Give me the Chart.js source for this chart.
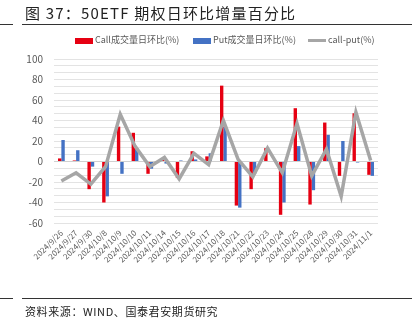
<!DOCTYPE html>
<html>
<head>
<meta charset="utf-8">
<script src="https://cdn.jsdelivr.net/npm/chart.js@4"></script>
<style>
  html, body { margin: 0; padding: 0; background: #fff; }
  body { width: 412px; height: 325px; position: relative; overflow: hidden; font-family: 'Noto Sans CJK SC', 'Noto Sans', sans-serif; }
  #wrap { position: absolute; left: 0; top: 0; width: 412px; height: 325px; }
  .title { position: absolute; left: 25px; top: 2px; font-size: 15px; color: #222; letter-spacing: 1.2px; white-space: nowrap; }
  .rule { position: absolute; height: 1px; background: #333; }
  .src { position: absolute; left: 25px; top: 303px; font-size: 11px; color: #222; letter-spacing: 0.6px; white-space: nowrap; }
  .legend { position: absolute; top: 33px; left: 0; width: 412px; font-size: 9px; color: #595959; white-space: nowrap; }
  .legend span.item { position: absolute; top: 0; }
  .legend i { display: inline-block; width: 18px; vertical-align: middle; margin-right: 2px; }
</style>
</head>
<body>
<div id="wrap"><canvas id="chart" width="412" height="325"></canvas></div>
<div class="title">图 37：50ETF 期权日环比增量百分比</div>
<div class="rule" style="left:0; width:13px; top:24px;"></div>
<div class="rule" style="left:22px; width:390px; top:24px;"></div>
<div class="legend" id="legend"></div>
<div class="rule" style="left:0; width:13px; top:298px;"></div>
<div class="rule" style="left:22px; width:390px; top:298px;"></div>
<div class="src">资料来源：WIND、国泰君安期货研究</div>
<script>
const labels = ['2024/9/26', '2024/9/27', '2024/9/30', '2024/10/8', '2024/10/9', '2024/10/10', '2024/10/11',
  '2024/10/14', '2024/10/15', '2024/10/16', '2024/10/17', '2024/10/18', '2024/10/21', '2024/10/22',
  '2024/10/23', '2024/10/24', '2024/10/25', '2024/10/28', '2024/10/29', '2024/10/30', '2024/10/31', '2024/11/1'];
const callValues = [3, 1, -27, -40, 34, 28, -12, 2, -16, 10, 5, 74, -43, -27, 13, -52, 52, -42, 38, -14, 47, -13];
const putValues = [21, 11, -5, -34, -12, 13, -7, -2, 1, 2, 8, 34, -45, -12, 0, -40, 15, -28, 26, 20, -1, -14];
const diffValues = [-19, -11, -22, -5, 46, 15, -5, 4, -17, 8, -3, 40, 2, -15, 13, -11, 37, -14, 12, -34, 48, 1];
const seriesNames = ['Call成交量日环比(%)', 'Put成交量日环比(%)', 'call-put(%)'];

const RED = '#E60012';
const BLUE = '#4472C4';
const GREY = '#A6A6A6';

// legend as html
const legend = document.getElementById('legend');
const legendItems = [
  { left: 75, color: RED, h: 6 },
  { left: 193, color: BLUE, h: 6 },
  { left: 308, color: GREY, h: 3 }
];
legendItems.forEach((it, i) => {
  const s = document.createElement('span');
  s.className = 'item';
  s.style.left = it.left + 'px';
  s.innerHTML = `<i style="height:${it.h}px;background:${it.color}"></i>${seriesNames[i]}`;
  legend.appendChild(s);
});

new Chart(document.getElementById('chart'), {
  data: {
    labels: labels,
    datasets: [
      { type: 'line', label: seriesNames[2], data: diffValues, borderColor: GREY, backgroundColor: GREY,
        borderWidth: 3.5, pointRadius: 0, tension: 0, order: 0 },
      { type: 'bar', label: seriesNames[0], data: callValues, backgroundColor: RED,
        categoryPercentage: 0.46, barPercentage: 1, order: 1 },
      { type: 'bar', label: seriesNames[1], data: putValues, backgroundColor: BLUE,
        categoryPercentage: 0.46, barPercentage: 1, order: 1 }
    ]
  },
  options: {
    responsive: false,
    animation: false,
    layout: { padding: { left: 0, right: 34, top: 59, bottom: 0 } },
    plugins: { legend: { display: false }, tooltip: { enabled: false } },
    scales: {
      x: {
        grid: { display: false, drawTicks: false },
        border: { display: false },
        ticks: {
          color: '#595959', font: { size: 8, family: 'Noto Sans CJK SC' },
          minRotation: 45, maxRotation: 45, autoSkip: false, padding: 5
        },
        afterFit: (scale) => { scale.height = 102; }
      },
      y: {
        min: -60, max: 100,
        grid: {
          color: (ctx) => (ctx.tick && ctx.tick.value === 0 ? '#D0D0D0' : '#E3E3E3'),
          lineWidth: 1, drawTicks: false
        },
        border: { display: false },
        ticks: {
          stepSize: 20 / 3, autoSkip: false, padding: 11,
          color: '#595959', font: { size: 10, family: 'Noto Sans CJK SC' },
          callback: (v) => {
            const r = Math.round(v / 20);
            return Math.abs(v / 20 - r) < 0.01 ? String(r * 20) : '';
          }
        },
        afterFit: (scale) => { scale.width = 54; }
      }
    }
  }
});
</script>
</body>
</html>
